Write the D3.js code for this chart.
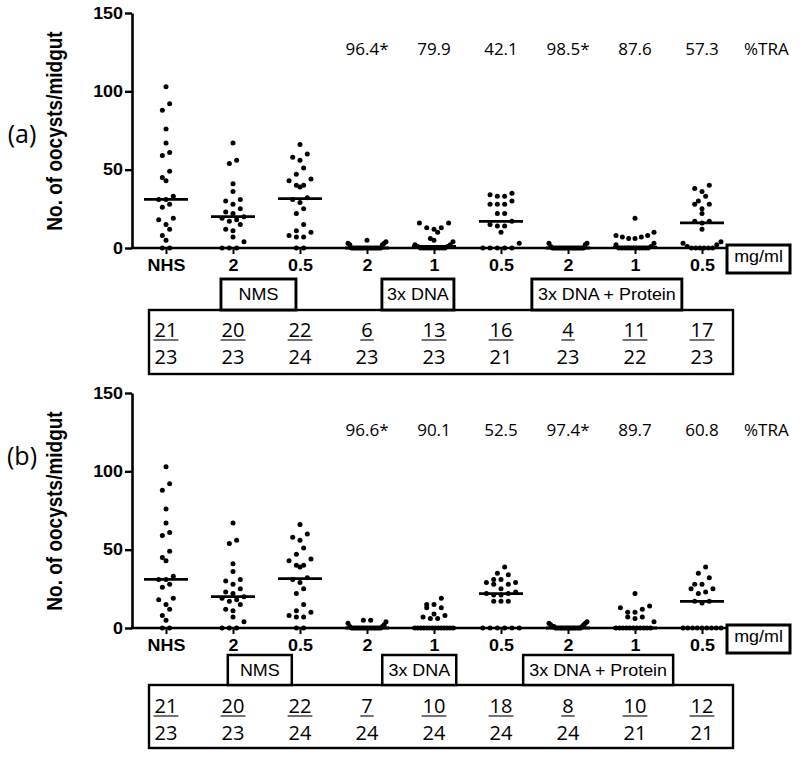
<html>
<head>
    <title>oocysts per midgut</title>
</head>
<body style="margin: 0; background: #fff;">
    <svg width="800" height="758"></svg>
</body>

<script src="https://cdn.jsdelivr.net/npm/d3@7"></script>
<script>
const width = 800;
const height = 758;

const categories = ['NHS', '2', '0.5', '2', '1', '0.5', '2', '1', '0.5'];
const groups = ['NMS', '3x DNA', '3x DNA + Protein'];

// non-zero oocyst counts per midgut; zeros come from total - infected
const nhs   = [103, 92, 88, 76, 67, 61, 59, 49, 45, 43, 33, 31, 31, 28, 26, 19, 18, 15, 12, 8, 5];
const nms2  = [67, 56, 54, 41, 36, 31, 30, 28, 25, 23, 22, 20, 19, 18, 17, 15, 12, 11, 7, 4];
const nms05 = [66, 60, 58, 56, 51, 47, 44, 43, 40, 40, 39, 32, 31, 29, 25, 22, 15, 11, 10, 8, 7, 7];

const countsA = [
    nhs, nms2, nms05,
    [5, 4, 3, 3, 2, 2],
    [16, 16, 13, 13, 12, 10, 6, 5, 4, 2, 2, 1, 1],
    [35, 34, 33, 33, 30, 28, 28, 28, 22, 22, 17, 15, 14, 14, 10, 3],
    [3, 3, 2, 1],
    [19, 10, 8, 8, 7, 7, 6, 6, 3, 2, 1],
    [40, 38, 36, 33, 30, 28, 28, 25, 22, 17, 17, 16, 12, 4, 3, 2, 1]
];
const infectedA = [21, 20, 22, 6, 13, 16, 4, 11, 17];
const totalA    = [23, 23, 24, 23, 23, 21, 23, 22, 23];
const traA = ['96.4*', '79.9', '42.1', '98.5*', '87.6', '57.3'];

const countsB = [
    nhs, nms2, nms05,
    [5, 5, 4, 3, 2, 1, 1],
    [19, 15, 15, 13, 13, 9, 8, 7, 6, 6],
    [39, 35, 34, 31, 31, 29, 29, 28, 28, 25, 23, 22, 22, 21, 21, 17, 17, 17],
    [4, 3, 3, 2, 2, 1, 1, 1],
    [22, 14, 13, 12, 10, 10, 7, 7, 6, 4],
    [39, 35, 32, 28, 28, 25, 25, 23, 22, 17, 17, 16]
];
const infectedB = [21, 20, 22, 7, 10, 18, 8, 10, 12];
const totalB    = [23, 23, 24, 24, 24, 24, 24, 21, 21];
const traB = ['96.6*', '90.1', '52.5', '97.4*', '89.7', '60.8'];

const yTicks = [0, 50, 100, 150];

// layout of the two panels
const panels = [
    { tag: '(a)', counts: countsA, infected: infectedA, total: totalA, tra: traA,
      y0: 248, yTop: 13, tagY: 143, titleY: 131, traY: 55,
      boxTop: 279, boxMid: 310, boxBot: 374, numY: 337, lineY: 340, denY: 364, boxStroke: 2.9,
      boxes: [{cx: 1.38, w: 75}, {cx: 3.76, w: 72}, {cx: 6.58, w: 150}] },
    { tag: '(b)', counts: countsB, infected: infectedB, total: totalB, tra: traB,
      y0: 628, yTop: 393, tagY: 465, titleY: 511, traY: 436,
      boxTop: 655, boxMid: 685, boxBot: 748, numY: 713, lineY: 716, denY: 740, boxStroke: 2.5,
      boxes: [{cx: 1.40, w: 64}, {cx: 3.78, w: 74}, {cx: 6.45, w: 150}] }
];

const ARIAL = '"Liberation Sans", Arial, sans-serif';
const CALIBRI = '"Open Sans", "Noto Sans", sans-serif';
const SX = 1.12;   // prism part of the figure is stretched horizontally

const x = d3.scaleLinear().domain([0, 8]).range([166, 702]);
const svg = d3.select('svg');

// prism-like scatter: rows of nearby values, lowest in the middle
function swarm(vals, y) {
    const binH = 6.5, gap = 7.3, maxW = 38;
    const sorted = vals.slice().sort((a, b) => b - a);
    const base = sorted.filter(v => y(0) - y(v) < binH);
    const rest = sorted.filter(v => y(0) - y(v) >= binH);
    const rows = [];
    let k = 0;
    while (k < rest.length) {
        const top = y(rest[k]);
        const row = [];
        while (k < rest.length && y(rest[k]) - top < binH) row.push(rest[k++]);
        rows.push(row);
    }
    if (base.length) rows.push(base);
    const out = [];
    rows.forEach(row => {
        row.sort((a, b) => a - b);
        const n = row.length;
        const s = n > 1 ? Math.min(gap, maxW / (n - 1)) : 0;
        const slots = d3.range(n).map(j => (j - (n - 1) / 2) * s)
            .sort((a, b) => Math.abs(a) - Math.abs(b) || a - b);
        row.forEach((v, j) => out.push({v: v, dx: slots[j]}));
    });
    return out;
}

panels.forEach(p => {
    const y = d3.scaleLinear().domain([0, 150]).range([p.y0, p.yTop]);
    const g = svg.append('g');

    // panel tag and y title
    g.append('text')
        .attr('x', 22).attr('y', p.tagY)
        .attr('text-anchor', 'middle')
        .style('font-family', CALIBRI).style('font-size', '25px')
        .text(p.tag);

    g.append('text')
        .attr('transform', `translate(62,${p.titleY}) rotate(-90) scale(1,${SX})`)
        .attr('text-anchor', 'middle')
        .style('font-family', ARIAL).style('font-size', '19px').style('font-weight', 'bold')
        .text('No. of oocysts/midgut');

    // points
    const pts = [];
    const medians = [];
    p.counts.forEach((vals, i) => {
        const zeros = p.total[i] - vals.length;
        const all = vals.concat(d3.range(zeros).map(() => 0));
        swarm(all, y).forEach(d => pts.push({i: i, v: d.v, dx: d.dx}));
        medians.push({i: i, v: d3.median(all)});
    });

    // axes
    const yAxis = g.append('g')
        .attr('transform', 'translate(132,0)')
        .call(d3.axisLeft(y).tickValues(yTicks).tickSize(7).tickSizeOuter(0).tickPadding(2));
    yAxis.select('.domain').attr('stroke-width', 2.6);
    yAxis.selectAll('.tick line').attr('stroke-width', 2.4);
    yAxis.selectAll('.tick text').each(function() {
        const t = d3.select(this);
        const tx = +t.attr('x');
        t.attr('x', 0).attr('transform', `translate(${tx},0) scale(${SX},1)`);
    });
    yAxis.selectAll('text')
        .style('font-family', ARIAL).style('font-size', '16px').style('font-weight', 'bold').attr('fill', '#000');

    g.append('line')
        .attr('x1', 131).attr('x2', 726)
        .attr('y1', p.y0).attr('y2', p.y0)
        .attr('stroke', '#000').attr('stroke-width', 2.6);

    const xAxis = g.append('g')
        .attr('transform', `translate(0,${p.y0})`)
        .call(d3.axisBottom(x).tickValues(d3.range(categories.length))
            .tickFormat(i => categories[i]).tickSize(6).tickSizeOuter(0).tickPadding(6));
    xAxis.select('.domain').remove();
    xAxis.selectAll('.tick line').attr('stroke-width', 2);
    xAxis.selectAll('text')
        .attr('transform', `scale(${SX},1)`)
        .style('font-family', ARIAL).style('font-size', '16px').style('font-weight', 'bold').attr('fill', '#000');

    // dots and medians
    g.append('g').selectAll('circle')
        .data(pts)
        .join('circle')
        .attr('cx', d => x(d.i) + d.dx)
        .attr('cy', d => y(d.v))
        .attr('r', 2.5)
        .attr('fill', '#000');

    g.append('g').selectAll('line')
        .data(medians)
        .join('line')
        .attr('x1', d => x(d.i) - 22).attr('x2', d => x(d.i) + 22)
        .attr('y1', d => y(d.v)).attr('y2', d => y(d.v))
        .attr('stroke', '#000').attr('stroke-width', 2.8);

    // %TRA row
    g.append('g').selectAll('text')
        .data(p.tra)
        .join('text')
        .attr('x', (d, j) => x(j + 3))
        .attr('y', p.traY)
        .attr('text-anchor', 'middle')
        .style('font-family', CALIBRI).style('font-size', '17px').attr('fill', '#000')
        .text(d => d);
    g.append('text')
        .attr('x', x(8.96)).attr('y', p.traY)
        .attr('text-anchor', 'middle')
        .style('font-family', CALIBRI).style('font-size', '17px').attr('fill', '#000')
        .text('%TRA');

    // mg/ml box
    g.append('rect')
        .attr('x', x(8) + 25).attr('y', p.y0 - 3)
        .attr('width', 63).attr('height', 28)
        .attr('fill', '#fff').attr('stroke', '#000').attr('stroke-width', 3);
    g.append('text')
        .attr('transform', `translate(${x(8) + 56.5},${p.y0 + 14}) scale(${SX},1)`)
        .attr('text-anchor', 'middle')
        .style('font-family', ARIAL).style('font-size', '16px')
        .text('mg/ml');

    // infected / total box
    g.append('rect')
        .attr('x', 149).attr('y', p.boxMid)
        .attr('width', 584).attr('height', p.boxBot - p.boxMid)
        .attr('fill', '#fff').attr('stroke', '#000').attr('stroke-width', 2.4);

    p.infected.forEach((n, i) => {
        const num = g.append('text')
            .attr('x', x(i)).attr('y', p.numY)
            .attr('text-anchor', 'middle')
            .style('font-family', CALIBRI).style('font-size', '20px').attr('fill', '#000')
            .text(n);
        const w = num.node().getComputedTextLength();
        g.append('line')
            .attr('x1', x(i) - w / 2 - 1).attr('x2', x(i) + w / 2 + 1)
            .attr('y1', p.lineY).attr('y2', p.lineY)
            .attr('stroke', '#444').attr('stroke-width', 1.5);
        g.append('text')
            .attr('x', x(i)).attr('y', p.denY)
            .attr('text-anchor', 'middle')
            .style('font-family', CALIBRI).style('font-size', '20px').attr('fill', '#000')
            .text(p.total[i]);
    });

    // group boxes
    p.boxes.forEach((b, j) => {
        const cx = x(b.cx);
        g.append('rect')
            .attr('x', cx - b.w / 2).attr('y', p.boxTop)
            .attr('width', b.w).attr('height', p.boxMid - p.boxTop)
            .attr('fill', '#fff').attr('stroke', '#000').attr('stroke-width', p.boxStroke);
        g.append('text')
            .attr('transform', `translate(${cx},${(p.boxTop + p.boxMid) / 2 + 5.7}) scale(${SX},1)`)
            .attr('text-anchor', 'middle')
            .style('font-family', ARIAL).style('font-size', '16px')
            .text(groups[j]);
    });
});
</script>
</html>
